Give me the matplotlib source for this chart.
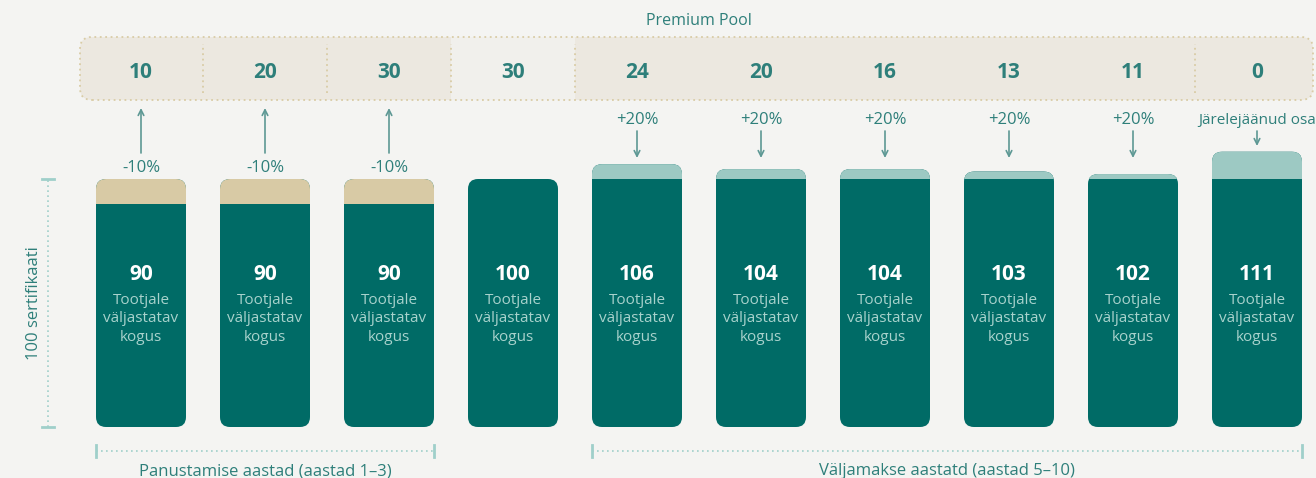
import matplotlib.pyplot as plt
from matplotlib.patches import FancyBboxPatch, Rectangle
import numpy as np

# Data
pool_values = [10, 20, 30, 30, 24, 20, 16, 13, 11, 0]
base_values = [90, 90, 90, 100, 100, 100, 100, 100, 100, 100]
total_values = [100, 100, 100, 100, 106, 104, 104, 103, 102, 111]
bar_labels = ['90', '90', '90', '100', '106', '104', '104', '103', '102', '111']
change_labels = ['-10%', '-10%', '-10%', '', '+20%', '+20%', '+20%', '+20%',
                 '+20%', 'Järelejäänud osa']
bar_text = 'Tootjale\nväljastatav\nkogus'
title = 'Premium Pool'
axis_label = '100 sertifikaati'
group_labels = ['Panustamise aastad (aastad 1–3)',
                'Väljamakse aastatd (aastad 5–10)']

# Colours
BG = '#f4f4f2'
DARK = '#006b66'
TAN = '#d8caa5'
LIGHT = '#9dc9c3'
POOL_FILL = '#ece8e0'
POOL_FILL_MID = '#f1f0ec'
POOL_EDGE = '#d9cca6'
TEXT = '#2e7f7a'
ARROW = '#5d9894'
INNER_TEXT = '#a8d2cc'
GUIDE = '#9fcfca'

plt.rcParams['font.family'] = ['Open Sans', 'DejaVu Sans']

fig = plt.figure(figsize=(13.16, 4.78), dpi=100, facecolor=BG)
ax = fig.add_axes([0, 0, 1, 1])
ax.set_facecolor(BG)
# 124 px per bar step, 2.48 px per certificate
ax.set_xlim(-141 / 124, (1316 - 141) / 124)
ax.set_ylim(-(478 - 427) / 2.48, 427 / 2.48)
ax.axis('off')


def py(pix):
    # pixel row -> certificate units
    return (427 - pix) / 2.48


x = np.arange(len(total_values))
width = 90 / 124
asp = 124 / 2.48
rad = 10 / 124

for i in x:
    left = i - width / 2
    cap_col = TAN if i < 3 else LIGHT
    body = FancyBboxPatch((left, 0), width, total_values[i],
                          boxstyle=f'round,pad=0,rounding_size={rad}',
                          mutation_aspect=asp, facecolor=DARK,
                          edgecolor='none', zorder=2)
    ax.add_patch(body)
    if total_values[i] > base_values[i]:
        cap = Rectangle((left, base_values[i]), width,
                        total_values[i] - base_values[i],
                        facecolor=cap_col, edgecolor='none', zorder=3)
        ax.add_patch(cap)
        cap.set_clip_path(body)
    ax.text(i, py(274), bar_labels[i], ha='center', va='center',
            color='white', fontsize=15, fontweight='bold', zorder=4)
    ax.text(i, py(319), bar_text, ha='center', va='center', color=INNER_TEXT,
            fontsize=11, linespacing=1.3, zorder=4)

# Change labels and arrows
for i in x:
    lab = change_labels[i]
    if not lab:
        continue
    if lab.startswith('-'):
        ax.text(i, py(168), lab, ha='center', va='center', color=TEXT,
                fontsize=12)
        ax.annotate('', xy=(i, py(108)), xytext=(i, py(153)),
                    arrowprops=dict(arrowstyle='->', color=ARROW, lw=1.2,
                                    shrinkA=0, shrinkB=0))
    elif lab.startswith('+'):
        ax.text(i, py(120), lab, ha='center', va='center', color=TEXT,
                fontsize=12)
        ax.annotate('', xy=(i, py(158)), xytext=(i, py(131)),
                    arrowprops=dict(arrowstyle='->', color=ARROW, lw=1.2,
                                    shrinkA=0, shrinkB=0))
    else:
        ax.text(i, py(121), lab, ha='center', va='center', color=TEXT,
                fontsize=11)
        ax.annotate('', xy=(i, py(146)), xytext=(i, py(131)),
                    arrowprops=dict(arrowstyle='->', color=ARROW, lw=1.2,
                                    shrinkA=0, shrinkB=0))

# Premium pool strip
pool_bottom = py(100)
pool_top = py(37)
pool_left = (80 - 141) / 124
pool_right = (1313 - 141) / 124
box = dict(boxstyle=f'round,pad=0,rounding_size={12 / 124}',
           mutation_aspect=asp)
strip = FancyBboxPatch((pool_left, pool_bottom), pool_right - pool_left,
                       pool_top - pool_bottom, facecolor=POOL_FILL,
                       edgecolor='none', zorder=1, **box)
ax.add_patch(strip)
mid = Rectangle((2.5, pool_bottom), 1, pool_top - pool_bottom,
                facecolor=POOL_FILL_MID, edgecolor='none', zorder=1.5)
ax.add_patch(mid)
mid.set_clip_path(strip)
ax.add_patch(FancyBboxPatch((pool_left, pool_bottom), pool_right - pool_left,
                            pool_top - pool_bottom, facecolor='none',
                            edgecolor=POOL_EDGE, lw=1.3,
                            linestyle=(0, (1, 2)), zorder=2.5, **box))
for b in [0.5, 1.5, 2.5, 3.5, 8.5]:
    ax.plot([b, b], [pool_bottom + 3, pool_top - 3], color=POOL_EDGE,
            lw=1.3, linestyle=(0, (1, 2)), zorder=2)
for i in x:
    ax.text(i, py(73), str(pool_values[i]), ha='center', va='center',
            color=TEXT, fontsize=15, fontweight='bold', zorder=3)
ax.text(4.5, py(21), title, ha='center', va='center', color=TEXT,
        fontsize=11.5)

# Left guide: 100 certificates
gx = (48 - 141) / 124
tick = 6 / 124
ax.plot([gx, gx], [0, 100], color=GUIDE, lw=1.2, linestyle=(0, (1, 2)))
for yy in [0, 100]:
    ax.plot([gx - tick, gx + tick], [yy, yy], color=GUIDE, lw=2)
ax.text((34 - 141) / 124, 50, axis_label, rotation=90, ha='center',
        va='center', color=TEXT, fontsize=12)

# Bottom group brackets
by = py(451)
for (a, b), lab in zip([(0, 2), (4, 9)], group_labels):
    x0 = a - width / 2
    x1 = b + width / 2
    ax.plot([x0, x1], [by, by], color=GUIDE, lw=1.2, linestyle=(0, (1, 2)))
    for xx in [x0, x1]:
        ax.plot([xx, xx], [by - 2.4, by + 2.4], color=GUIDE, lw=2)
    ax.text((x0 + x1) / 2, py(471), lab, ha='center', va='center',
            color=TEXT, fontsize=12)

fig.savefig('out.png', dpi=100, facecolor=BG)
